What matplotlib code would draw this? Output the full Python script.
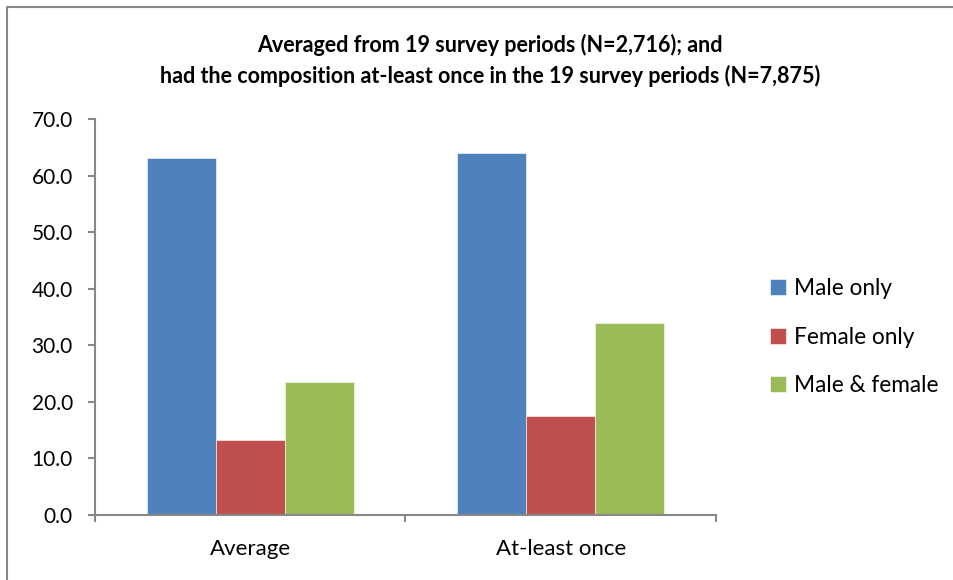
import numpy as np
import matplotlib.pyplot as plt
from matplotlib.lines import Line2D

# data
categories = ["Average", "At-least once"]
series = ["Male only", "Female only", "Male & female"]
male_only = [63.1, 64.0]
female_only = [13.2, 17.6]
male_female = [23.5, 34.0]
colors = ["#4F81BD", "#C0504D", "#9BBB59"]

plt.rcParams['font.family'] = ['Lato', 'DejaVu Sans']

W, H = 954, 580
fig = plt.figure(figsize=(W / 100, H / 100), dpi=100)

# chart border (only top and left edges fall inside the picture)
fig.add_artist(Line2D([7 / W, 7 / W, 1], [0, 1 - 7 / H, 1 - 7 / H],
                      transform=fig.transFigure, color="#888888", linewidth=1.5))

ax = fig.add_axes([95 / W, 1 - 515 / H, 621 / W, 395.7 / H])

x = np.arange(len(categories))
w = 0.222
for i, (vals, name) in enumerate(zip([male_only, female_only, male_female], series)):
    ax.bar(x + (i - 1) * w, vals, width=w, color=colors[i], label=name,
           edgecolor="white", linewidth=0.4)

ax.set_xlim(-0.5, 1.5)
ax.set_ylim(0, 70)
ax.set_yticks(np.arange(0, 71, 10))
ax.set_yticklabels([f"{v:.1f}" for v in np.arange(0, 71, 10)], fontsize=15)
ax.set_xticks(x)
ax.set_xticklabels(categories, fontsize=16)
ax.tick_params(axis='x', length=0, pad=17)
ax.set_xticks([-0.5, 0.5, 1.5], minor=True)
ax.tick_params(axis='x', which='minor', length=5, color="#888888", width=1.5)
ax.tick_params(axis='y', length=5, color="#888888", width=1.5, pad=11)

for s in ["top", "right"]:
    ax.spines[s].set_visible(False)
for s in ["left", "bottom"]:
    ax.spines[s].set_color("#888888")
    ax.spines[s].set_linewidth(1.5)

fig.text(490 / W, 1 - 45 / H, "Averaged from 19 survey periods (N=2,716); and",
         ha="center", va="center", fontsize=15.5, fontweight="bold")
fig.text(490 / W, 1 - 76 / H,
         "had the composition at-least once in the 19 survey periods (N=7,875)",
         ha="center", va="center", fontsize=15.5, fontweight="bold")

ax.legend(loc="center left", bbox_to_anchor=(759 / W, 1 - 337 / H),
          bbox_transform=fig.transFigure, frameon=False, fontsize=16.3,
          borderpad=0, handlelength=0.7, handleheight=0.7, handletextpad=0.35,
          labelspacing=1.2)

fig.savefig("out.png", dpi=100, facecolor="white")
